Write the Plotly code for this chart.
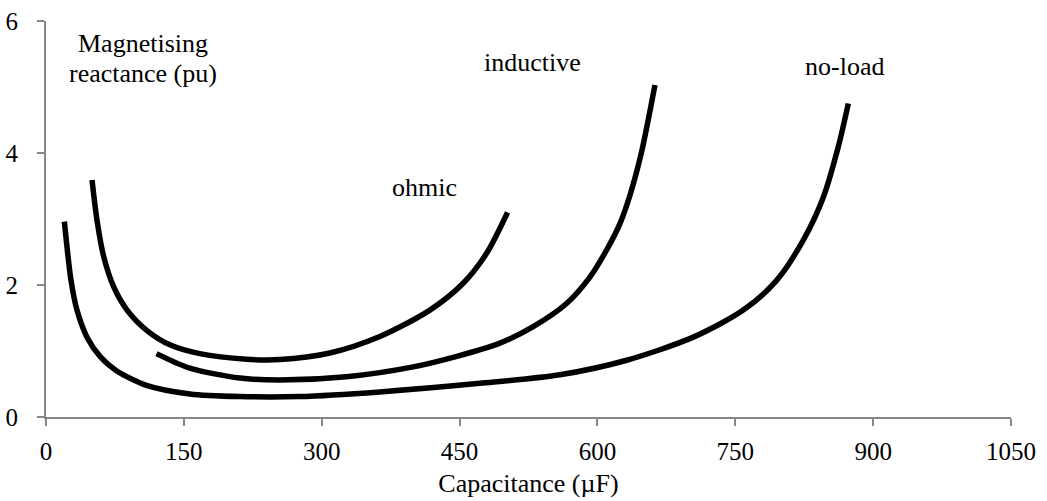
import plotly.graph_objects as go

# no-load curve
noload_x = [20.0, 23.6, 27.2, 33.7, 44.6, 59.2, 76.6, 109.3, 156.4, 210.9, 276.2, 363.2, 472.1, 559.2, 631.8, 704.3, 758.7, 795.0, 824.0, 845.8, 862.0, 873.0]
noload_y = [2.96, 2.48, 2.07, 1.62, 1.21, 0.91, 0.70, 0.48, 0.35, 0.31, 0.31, 0.38, 0.51, 0.64, 0.86, 1.21, 1.62, 2.07, 2.68, 3.33, 4.09, 4.75]

# ohmic curve
ohmic_x = [50.1, 55.5, 62.8, 73.7, 88.2, 109.9, 135.4, 167.3, 218.1, 254.4, 308.8, 363.2, 417.7, 454.2, 479.4, 502.2]
ohmic_y = [3.59, 2.98, 2.43, 1.97, 1.62, 1.31, 1.09, 0.96, 0.875, 0.87, 0.97, 1.22, 1.62, 2.03, 2.48, 3.10]

# inductive curve
inductive_x = [120.2, 156.4, 210.9, 254.4, 327.0, 399.5, 447.0, 493.9, 530.1, 566.4, 591.8, 610.0, 624.5, 635.4, 648.1, 662.6]
inductive_y = [0.96, 0.74, 0.59, 0.56, 0.61, 0.76, 0.92, 1.12, 1.37, 1.72, 2.12, 2.53, 2.93, 3.36, 4.02, 5.03]

x_ticks = [0, 150, 300, 450, 600, 750, 900, 1050]
y_ticks = [0, 2, 4, 6]

labels = [
    ("Magnetising", 105, 5.66),
    ("reactance (pu)", 105, 5.21),
    ("inductive", 529, 5.37),
    ("ohmic", 412, 3.47),
    ("no-load", 869, 5.31),
]

FONT = "Liberation Serif, Times New Roman, serif"
AX = "#868686"

fig = go.Figure()
for name, xs, ys in [("no-load", noload_x, noload_y), ("ohmic", ohmic_x, ohmic_y), ("inductive", inductive_x, inductive_y)]:
    fig.add_trace(go.Scatter(x=xs, y=ys, mode="lines", name=name,
                             line=dict(color="black", width=5.5, shape="spline", smoothing=0.8),
                             showlegend=False, hoverinfo="skip"))

for text, x, y in labels:
    fig.add_annotation(x=x, y=y, text=text, showarrow=False, xanchor="center", yanchor="middle",
                       font=dict(family=FONT, size=26, color="black"))

fig.update_layout(
    width=1047, height=501,
    margin=dict(l=46, r=36, t=21, b=84),
    paper_bgcolor="white", plot_bgcolor="white",
    font=dict(family=FONT, size=25, color="black"),
    xaxis=dict(range=[0, 1050], tickvals=x_ticks, ticktext=[str(v) for v in x_ticks],
               showgrid=False, zeroline=False, showline=True, linecolor=AX, linewidth=2,
               ticks="outside", ticklen=7, tickcolor=AX, tickwidth=2, ticklabelstandoff=4,
               automargin=False,
               title=dict(text="Capacitance (µF)", font=dict(family=FONT, size=26), standoff=10)),
    yaxis=dict(range=[0, 6], tickvals=y_ticks, ticktext=[str(v) for v in y_ticks],
               showgrid=False, zeroline=False, showline=True, linecolor=AX, linewidth=2,
               ticks="outside", ticklen=7, tickcolor=AX, tickwidth=2, ticklabelstandoff=14,
               automargin=False),
)

fig.write_html("out.html")
